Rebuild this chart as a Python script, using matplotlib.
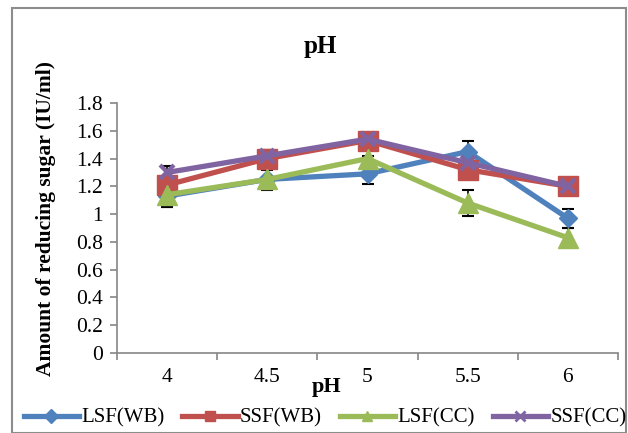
import matplotlib
matplotlib.use("Agg")
import matplotlib.pyplot as plt
from matplotlib.lines import Line2D
from matplotlib.patches import Rectangle

categories = ["4", "4.5", "5", "5.5", "6"]
lsf_wb = [1.13, 1.25, 1.29, 1.45, 0.97]
ssf_wb = [1.21, 1.40, 1.53, 1.32, 1.20]
lsf_cc = [1.14, 1.25, 1.40, 1.08, 0.83]
ssf_cc = [1.30, 1.42, 1.54, 1.37, 1.20]
err_lsf_wb = [0.08, 0.075, 0.07, 0.08, 0.07]
err_ssf_wb = [0.03, 0.06, 0.02, 0.02, 0.02]
err_lsf_cc = [0.09, 0.07, 0.02, 0.09, 0.07]
err_ssf_cc = [0.05, 0.04, 0.02, 0.02, 0.02]
series_names = ["LSF(WB)", "SSF(WB)", "LSF(CC)", "SSF(CC)"]
colors = ["#4F81BD", "#C0504D", "#9BBB59", "#8064A2"]
markers = ["D", "s", "^", "x"]
msizes = [9.5, 14.5, 14, 10]

plt.rcParams['font.family'] = ['Liberation Serif', 'DejaVu Serif']

W, H = 628, 433
fig = plt.figure(figsize=(W / 100, H / 100), dpi=100)

# chart border
fig.patches.append(Rectangle((12 / W, 0.0), (626 - 12) / W, (H - 8) / H,
                             transform=fig.transFigure, fill=False,
                             edgecolor="#8C8C8C", linewidth=1.5))

left, right, top, bottom = 117, 618, 103, 353
ax = fig.add_axes([left / W, 1 - bottom / H, (right - left) / W, (bottom - top) / H])

x = list(range(len(categories)))
data = [lsf_wb, ssf_wb, lsf_cc, ssf_cc]
errs = [err_lsf_wb, err_ssf_wb, err_lsf_cc, err_ssf_cc]
for i, (vals, e) in enumerate(zip(data, errs)):
    ax.plot(x, vals, color=colors[i], linewidth=3.8, marker=markers[i],
            markersize=msizes[i], markeredgewidth=3 if markers[i] == "x" else 1,
            markeredgecolor=colors[i], markerfacecolor=colors[i], zorder=3 + i)
for i, (vals, e) in enumerate(zip(data, errs)):
    ax.errorbar(x, vals, yerr=e, fmt="none", ecolor="black", elinewidth=1.2,
                capsize=4, capthick=1.5, zorder=2)

ax.set_xlim(-0.5, len(categories) - 0.5)
ax.set_ylim(0, 1.8)
ax.set_yticks([0, 0.2, 0.4, 0.6, 0.8, 1.0, 1.2, 1.4, 1.6, 1.8])
ax.set_yticklabels(["0", "0.2", "0.4", "0.6", "0.8", "1", "1.2", "1.4", "1.6", "1.8"])
ax.set_xticks(x)
ax.set_xticklabels(categories)
ax.set_xticks([k - 0.5 for k in range(len(categories) + 1)], minor=True)
ax.tick_params(axis="x", which="major", length=0, pad=11, labelsize=15.5)
ax.tick_params(axis="x", which="minor", length=5, color="#868686", width=1.2, direction="out")
ax.tick_params(axis="y", length=5, color="#868686", width=1.2, labelsize=15.5, pad=5)
for s in ["top", "right"]:
    ax.spines[s].set_visible(False)
for s in ["left", "bottom"]:
    ax.spines[s].set_color("#868686")
    ax.spines[s].set_linewidth(1.2)

fig.text(320 / W, 1 - 47 / H, "pH", ha="center", va="center", fontsize=18, fontweight="bold")
fig.text(327 / W, 1 - 387 / H, "pH", ha="center", va="center", fontsize=16, fontweight="bold")
fig.text(46 / W, 1 - 219 / H, "Amount of reducing sugar (IU/ml)", ha="center", va="center",
         rotation=90, fontsize=15.5, fontweight="bold")

handles = [Line2D([], [], color=colors[i], linewidth=3.8, marker=markers[i],
                  markersize=7, markeredgewidth=2 if markers[i] == "x" else 1,
                  markeredgecolor=colors[i], markerfacecolor=colors[i])
           for i in range(4)]
fig.legend(handles, series_names, loc="center", bbox_to_anchor=(325 / W, 1 - 418 / H),
           ncol=4, frameon=False, fontsize=15, handlelength=2.65, handletextpad=0.12,
           columnspacing=0.85, borderaxespad=0, borderpad=0)

fig.savefig("out.png", dpi=100)
